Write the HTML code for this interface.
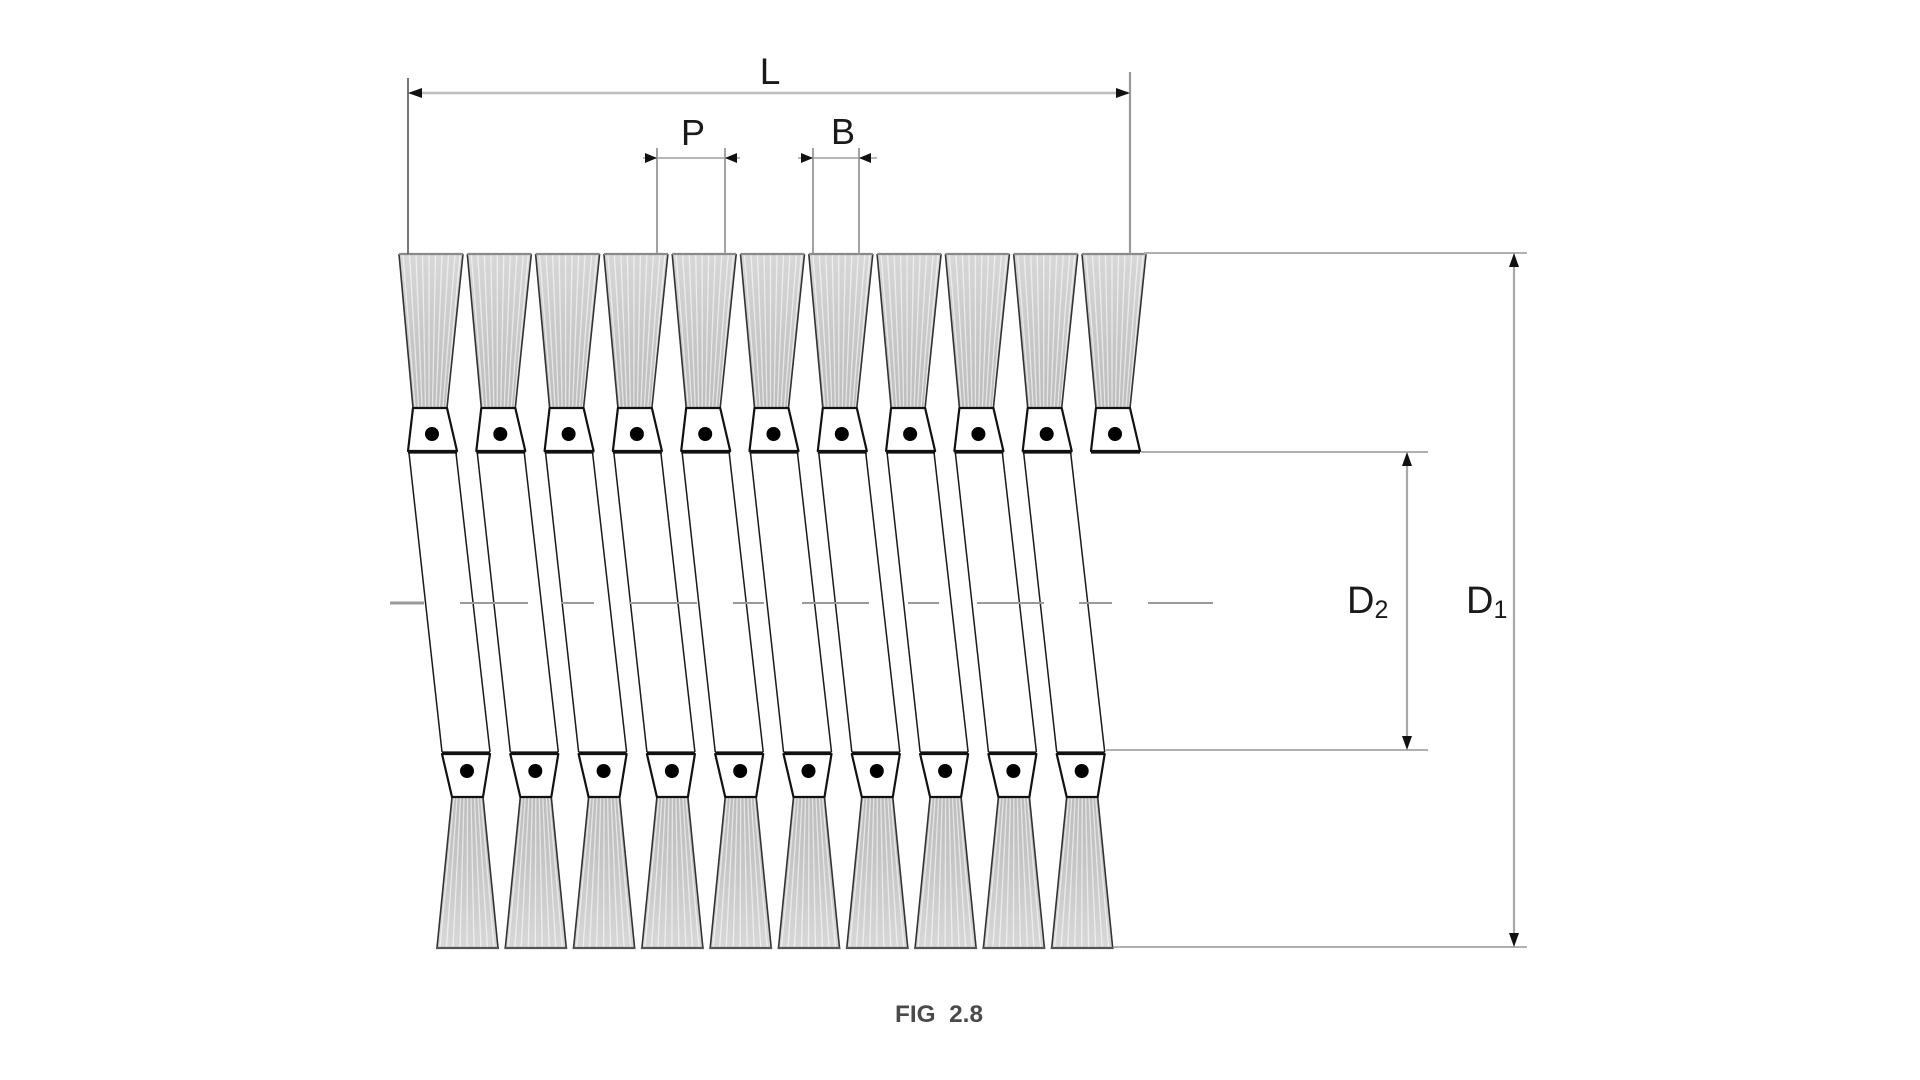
<!DOCTYPE html>
<html>
<head>
<meta charset="utf-8">
<style>
  html, body { margin: 0; padding: 0; background: #ffffff; }
  body { width: 1920px; height: 1080px; overflow: hidden; }
  svg { display: block; }
  text { font-family: "Liberation Sans", "DejaVu Sans", sans-serif; }
</style>
</head>
<body>
<svg width="1920" height="1080" viewBox="0 0 1920 1080" xmlns="http://www.w3.org/2000/svg">
  <defs>
    <linearGradient id="gTop" x1="0" y1="0" x2="0" y2="1">
      <stop offset="0" stop-color="#d8d8d8"/>
      <stop offset="0.6" stop-color="#c6c6c6"/>
      <stop offset="1" stop-color="#bcbcbc"/>
    </linearGradient>
    <linearGradient id="gBot" x1="0" y1="0" x2="0" y2="1">
      <stop offset="0" stop-color="#bcbcbc"/>
      <stop offset="0.45" stop-color="#c6c6c6"/>
      <stop offset="1" stop-color="#d8d8d8"/>
    </linearGradient>

    <g id="topUnit">
      <polygon points="399,254 463,254 447,408 413,408" fill="url(#gTop)"/>
      <g stroke="#ffffff" stroke-width="1.3" opacity="0.6">
        <line x1="403" y1="255" x2="415" y2="407"/>
        <line x1="409.5" y1="255" x2="418.5" y2="407"/>
        <line x1="416" y1="255" x2="422" y2="407"/>
        <line x1="422.5" y1="255" x2="425.5" y2="407"/>
        <line x1="429" y1="255" x2="429" y2="407"/>
        <line x1="435.5" y1="255" x2="432.5" y2="407"/>
        <line x1="442" y1="255" x2="436" y2="407"/>
        <line x1="448.5" y1="255" x2="439.5" y2="407"/>
        <line x1="455" y1="255" x2="443" y2="407"/>
        <line x1="460" y1="255" x2="446" y2="407"/>
      </g>
      <line x1="399" y1="254" x2="413" y2="408" stroke="#333" stroke-width="1.6"/>
      <line x1="463" y1="254" x2="447" y2="408" stroke="#333" stroke-width="1.6"/>
      <line x1="399" y1="254" x2="463" y2="254" stroke="#8a8a8a" stroke-width="2.2"/>
      <polygon points="413,408 447,408 457,451 408,451" fill="#ffffff" stroke="#111" stroke-width="2.2" stroke-linejoin="round"/>
      <line x1="408" y1="452" x2="457" y2="452" stroke="#111" stroke-width="3.2"/>
      <circle cx="432" cy="434" r="7" fill="#000"/>
    </g>

    <g id="rod">
      <line x1="409" y1="453" x2="442" y2="752" stroke="#1a1a1a" stroke-width="1.5"/>
      <line x1="456" y1="453" x2="490" y2="752" stroke="#1a1a1a" stroke-width="1.5"/>
    </g>

    <g id="botUnit">
      <polygon points="452,797 483,797 498,948 437,948" fill="url(#gBot)"/>
      <g stroke="#ffffff" stroke-width="1.3" opacity="0.6">
        <line x1="454" y1="798" x2="440" y2="947"/>
        <line x1="457" y1="798" x2="446.5" y2="947"/>
        <line x1="460.5" y1="798" x2="453" y2="947"/>
        <line x1="464" y1="798" x2="460" y2="947"/>
        <line x1="467.5" y1="798" x2="467" y2="947"/>
        <line x1="471" y1="798" x2="474" y2="947"/>
        <line x1="474.5" y1="798" x2="481" y2="947"/>
        <line x1="478" y1="798" x2="487.5" y2="947"/>
        <line x1="481" y1="798" x2="494" y2="947"/>
      </g>
      <line x1="452" y1="797" x2="437" y2="948" stroke="#333" stroke-width="1.6"/>
      <line x1="483" y1="797" x2="498" y2="948" stroke="#333" stroke-width="1.6"/>
      <line x1="436" y1="948" x2="499" y2="948" stroke="#555" stroke-width="2.2"/>
      <polygon points="442,754 490,754 483,797 452,797" fill="#ffffff" stroke="#111" stroke-width="2.2" stroke-linejoin="round"/>
      <line x1="442" y1="753" x2="490" y2="753" stroke="#111" stroke-width="3.2"/>
      <circle cx="467" cy="771" r="7" fill="#000"/>
    </g>
  </defs>

  <use href="#rod" transform="translate(0,0)"/>
  <use href="#rod" transform="translate(68.3,0)"/>
  <use href="#rod" transform="translate(136.6,0)"/>
  <use href="#rod" transform="translate(204.9,0)"/>
  <use href="#rod" transform="translate(273.2,0)"/>
  <use href="#rod" transform="translate(341.5,0)"/>
  <use href="#rod" transform="translate(409.8,0)"/>
  <use href="#rod" transform="translate(478.1,0)"/>
  <use href="#rod" transform="translate(546.4,0)"/>
  <use href="#rod" transform="translate(614.7,0)"/>

  <use href="#topUnit" transform="translate(0,0)"/>
  <use href="#topUnit" transform="translate(68.3,0)"/>
  <use href="#topUnit" transform="translate(136.6,0)"/>
  <use href="#topUnit" transform="translate(204.9,0)"/>
  <use href="#topUnit" transform="translate(273.2,0)"/>
  <use href="#topUnit" transform="translate(341.5,0)"/>
  <use href="#topUnit" transform="translate(409.8,0)"/>
  <use href="#topUnit" transform="translate(478.1,0)"/>
  <use href="#topUnit" transform="translate(546.4,0)"/>
  <use href="#topUnit" transform="translate(614.7,0)"/>
  <use href="#topUnit" transform="translate(683,0)"/>

  <use href="#botUnit" transform="translate(0,0)"/>
  <use href="#botUnit" transform="translate(68.3,0)"/>
  <use href="#botUnit" transform="translate(136.6,0)"/>
  <use href="#botUnit" transform="translate(204.9,0)"/>
  <use href="#botUnit" transform="translate(273.2,0)"/>
  <use href="#botUnit" transform="translate(341.5,0)"/>
  <use href="#botUnit" transform="translate(409.8,0)"/>
  <use href="#botUnit" transform="translate(478.1,0)"/>
  <use href="#botUnit" transform="translate(546.4,0)"/>
  <use href="#botUnit" transform="translate(614.7,0)"/>

  <g stroke="#9a9a9a" stroke-width="2">
    <line x1="390" y1="603" x2="424" y2="603" stroke-width="3"/>
    <line x1="460" y1="603" x2="528" y2="603"/>
    <line x1="561" y1="603" x2="594" y2="603"/>
    <line x1="630" y1="603" x2="697" y2="603"/>
    <line x1="733" y1="603" x2="764" y2="603"/>
    <line x1="802" y1="603" x2="869" y2="603"/>
    <line x1="908" y1="603" x2="939" y2="603"/>
    <line x1="977" y1="603" x2="1044" y2="603"/>
    <line x1="1079" y1="603" x2="1112" y2="603"/>
    <line x1="1148" y1="603" x2="1213" y2="603"/>
  </g>

  <line x1="408" y1="78" x2="408" y2="254" stroke="#555" stroke-width="1.6"/>
  <line x1="1130" y1="72" x2="1130" y2="254" stroke="#999" stroke-width="2.2"/>
  <line x1="410" y1="93" x2="1128" y2="93" stroke="#bdbdbd" stroke-width="2.6"/>
  <polygon points="408,93 422,88 422,98" fill="#111"/>
  <polygon points="1130,93 1116,88 1116,98" fill="#111"/>
  <text x="770" y="84" font-size="37" fill="#1a1a1a" text-anchor="middle">L</text>

  <line x1="657" y1="148" x2="657" y2="254" stroke="#8a8a8a" stroke-width="1.6"/>
  <line x1="725" y1="148" x2="725" y2="254" stroke="#9a9a9a" stroke-width="1.8"/>
  <line x1="643" y1="158" x2="740" y2="158" stroke="#a0a0a0" stroke-width="1.6"/>
  <polygon points="657,158 645,153 645,163" fill="#111"/>
  <polygon points="725,158 737,153 737,163" fill="#111"/>
  <text x="693" y="145" font-size="36" fill="#1a1a1a" text-anchor="middle">P</text>

  <line x1="813" y1="148" x2="813" y2="254" stroke="#8a8a8a" stroke-width="1.6"/>
  <line x1="859" y1="148" x2="859" y2="254" stroke="#9a9a9a" stroke-width="1.8"/>
  <line x1="798" y1="158" x2="877" y2="158" stroke="#a0a0a0" stroke-width="1.6"/>
  <polygon points="813,158 801,153 801,163" fill="#111"/>
  <polygon points="859,158 871,153 871,163" fill="#111"/>
  <text x="843" y="144" font-size="36" fill="#1a1a1a" text-anchor="middle">B</text>

  <g stroke="#b0b0b0" stroke-width="2">
    <line x1="1144" y1="253" x2="1527" y2="253"/>
    <line x1="1141" y1="452" x2="1428" y2="452"/>
    <line x1="1106" y1="750" x2="1428" y2="750"/>
    <line x1="1114" y1="947" x2="1527" y2="947"/>
  </g>

  <line x1="1514" y1="262" x2="1514" y2="938" stroke="#a8a8a8" stroke-width="2.2"/>
  <polygon points="1514,253 1509,267 1519,267" fill="#111"/>
  <polygon points="1514,947 1509,933 1519,933" fill="#111"/>

  <line x1="1407" y1="461" x2="1407" y2="741" stroke="#a8a8a8" stroke-width="2.2"/>
  <polygon points="1407,452 1402,466 1412,466" fill="#111"/>
  <polygon points="1407,750 1402,736 1412,736" fill="#111"/>

  <text x="1347" y="613" font-size="38" fill="#1a1a1a">D<tspan font-size="25" dy="5">2</tspan></text>
  <text x="1466" y="613" font-size="38" fill="#1a1a1a">D<tspan font-size="25" dy="5">1</tspan></text>

  <text x="895" y="1022" font-size="24" font-weight="bold" fill="#4a4a4a" textLength="88" lengthAdjust="spacingAndGlyphs" xml:space="preserve">FIG  2.8</text>
</svg>
</body>
</html>
